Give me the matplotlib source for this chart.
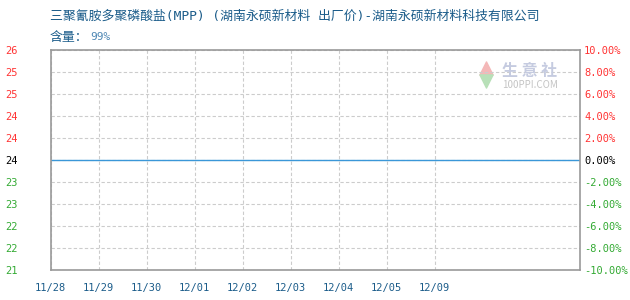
import matplotlib
matplotlib.use("Agg")
import matplotlib.pyplot as plt

plt.rcParams['font.family'] = ['Noto Sans CJK SC', 'DejaVu Sans']

# -----------------------------
# DATA
# -----------------------------
dates = ["11/28", "11/29", "11/30", "12/01", "12/02", "12/03", "12/04", "12/05", "12/09"]
prices = [24, 24, 24, 24, 24, 24, 24, 24, 24]

left_ticks = [21.6, 22.08, 22.56, 23.04, 23.52, 24.0, 24.48, 24.96, 25.44, 25.92, 26.4]
left_labels = ["21", "22", "22", "23", "23", "24", "24", "24", "25", "25", "26"]
pct_ticks = [-10, -8, -6, -4, -2, 0, 2, 4, 6, 8, 10]

title = "三聚氰胺多聚磷酸盐(MPP) (湖南永硕新材料 出厂价)-湖南永硕新材料科技有限公司"
sub_label = "含量："
sub_value = "99%"

RED = "#ff3333"
GREEN = "#33aa33"
BLUE_TXT = "#1b5c8a"
BLUE_LIGHT = "#4f88b4"
LINE = "#3a97d8"
GRID = "#cccccc"
BORDER = "#999999"
MONO = ["DejaVu Sans Mono", "Noto Sans CJK SC"]


def tick_color(v, mid):
    if v > mid:
        return RED
    if v < mid:
        return GREEN
    return "black"


# -----------------------------
# PLOT
# -----------------------------
fig = plt.figure(figsize=(6.3, 3.0), dpi=100)
ax = fig.add_axes([50.7 / 630, 30 / 300, (580 - 50.7) / 630, 220 / 300])

x = list(range(len(dates)))
xmax = 11.03
ax.plot(x, prices, color=LINE, lw=1)
ax.hlines(prices[-1], x[-1], xmax, color=LINE, lw=1)

ax.set_xlim(0, xmax)
ax.set_ylim(left_ticks[0], left_ticks[-1])

ax.set_xticks(x)
ax.set_xticklabels(dates, family=MONO, fontsize=7.5, color=BLUE_TXT)
ax.tick_params(axis="x", length=0, pad=9)

ax.set_yticks(left_ticks)
ax.set_yticklabels(left_labels, family=MONO, fontsize=7.5, ha="left")
ax.tick_params(axis="y", length=0, pad=33)
for lab, v in zip(ax.get_yticklabels(), left_ticks):
    lab.set_color(tick_color(v, 24.0))

ax.grid(True, color=GRID, ls=(0, (3, 2)), lw=0.8)
for s in ax.spines.values():
    s.set_color(BORDER)
    s.set_linewidth(1.2)

ax2 = ax.twinx()
ax2.set_ylim(-10, 10)
ax2.set_yticks(pct_ticks)
ax2.set_yticklabels([f"{v:.2f}%" for v in pct_ticks], family=MONO, fontsize=7.5)
ax2.tick_params(axis="y", length=0, pad=3)
for lab, v in zip(ax2.get_yticklabels(), pct_ticks):
    lab.set_color(tick_color(v, 0))
for s in ax2.spines.values():
    s.set_visible(False)

# watermark
ax.text(0.905, 0.905, "生 意 社", transform=ax.transAxes, fontsize=11.5, color="#c5cbe0",
        ha="center", va="center", fontweight="bold")
ax.text(0.905, 0.84, "100PPI.COM", transform=ax.transAxes, fontsize=7, color="#c4c4c4",
        ha="center", va="center")
ax.scatter([0.823], [0.92], marker="^", s=90, color="#f4b8b8", transform=ax.transAxes, clip_on=False)
ax.scatter([0.823], [0.86], marker="v", s=90, color="#b8e0b8", transform=ax.transAxes, clip_on=False)

fig.text(50 / 630, 1 - 16 / 300, title, family=MONO, fontsize=9.3, color=BLUE_TXT,
         va="center", ha="left")
fig.text(50 / 630, 1 - 37 / 300, sub_label, fontsize=9.3, color=BLUE_TXT, va="center", ha="left")
fig.text(90 / 630, 1 - 37 / 300, sub_value, family=MONO, fontsize=8, color=BLUE_LIGHT,
         va="center", ha="left")

fig.savefig("out.png", dpi=100)
plt.close(fig)
